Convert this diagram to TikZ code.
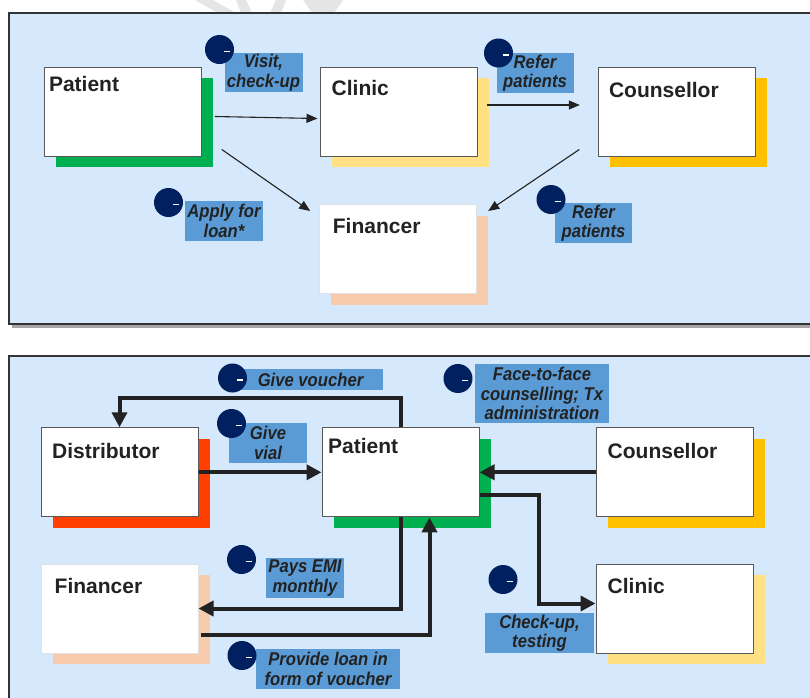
\documentclass[tikz,border=0pt]{standalone}
\usepackage{fontspec}
\setmainfont{Liberation Sans}
\newfontfamily\tagfont{Liberation Sans}[FakeStretch=0.9]
\usepackage{tikz}
\usetikzlibrary{arrows.meta,calc,positioning,shadows}

\definecolor{panelblue}{RGB}{213,232,252}
\definecolor{tagblue}{RGB}{91,155,213}
\definecolor{dotnavy}{RGB}{0,32,96}
\definecolor{shgreen}{RGB}{0,176,80}
\definecolor{shred}{RGB}{255,64,0}
\definecolor{shgold}{RGB}{255,192,0}
\definecolor{shyellow}{RGB}{255,224,130}
\definecolor{shpeach}{RGB}{248,203,173}
\definecolor{inkdark}{RGB}{34,34,34}

\tikzset{
  entity/.style={draw=black!65, line width=1pt, fill=white,
    minimum width=157pt, minimum height=89pt, inner sep=0pt,
    drop shadow={shadow xshift=11.5pt, shadow yshift=-11pt, opacity=1, fill=#1}},
  title/.style={anchor=north west, inner sep=0pt, text=inkdark,
    font=\fontsize{21}{25}\selectfont\bfseries},
  tag/.style={fill=tagblue, inner sep=0pt, align=center, text=inkdark,
    font=\tagfont\fontsize{18.5}{19.5}\selectfont\bfseries\itshape},
  dot/.style={circle, fill=dotnavy, minimum size=29pt, inner sep=0pt,
    path picture={\draw[white, line width=1.7pt]
      ([shift={(4pt,-2pt)}]path picture bounding box.center) -- ++(6pt,0pt);}},
  flow/.style={draw=inkdark, line width=1.1pt, ->},
  bigflow/.style={draw=inkdark, line width=4pt,
    -{Triangle[length=15pt,width=15pt]}}
}

\begin{document}
\begin{tikzpicture}[x=1pt,y=-1pt,>={Triangle[length=11pt,width=9pt]}]
  \clip (0,0) rectangle (810,697);
  \fill[white] (0,0) rectangle (810,697);

  % Watermark traces above the first panel
  \fill[black!10] (195,0) -- (213,0) -- (236,13) -- (218,13) -- cycle;
  \fill[black!10] (236,0) -- (246,0) -- (252,13) -- (241,13) -- cycle;
  \fill[black!10] (270,13) -- (276,0) -- (286,0) -- (281,13) -- cycle;
  \fill[black!10] (303,0) -- (343,0) -- (334,13) -- (312,13) -- cycle;

  % Panels
  \fill[black!35] (12,16) rectangle (815,328);
  \draw[black!80, line width=1.5pt, fill=panelblue] (9,13) rectangle (815,324);
  \draw[black!80, line width=1.5pt, fill=panelblue] (9,356) rectangle (815,705);

  % ---- Upper panel: actors
  \node[entity=shgreen, label={[title, xshift=5pt, yshift=-10pt]north west:Patient}]
    (patA) at (122.8,111.5) {};
  \node[entity=shyellow, label={[title, xshift=12pt, yshift=-14pt]north west:Clinic}]
    (cliA) at (398.5,111.5) {};
  \node[entity=shgold, label={[title, xshift=11pt, yshift=-15.5pt]north west:Counsellor}]
    (couA) at (676.8,111.5) {};
  \node[entity=shpeach, draw=black!12, label={[title, xshift=13.5pt, yshift=-14pt]north west:Financer}]
    (finA) at (398.2,249) {};

  % Upper panel: flows
  \draw[flow] ([shift={(13,5)}]patA.east) -- ([shift={(-2,7)}]cliA.west);
  \draw[flow] ([shift={(9,-6.5)}]cliA.east) -- ([shift={(-18,-6.5)}]couA.west);
  \draw[flow] ([shift={(20,-7)}]patA.south east) -- ([shift={(-9,7)}]finA.north west);
  \draw[flow] ([shift={(-18.5,-7)}]couA.south west) -- ([shift={(11,7)}]finA.north east);

  % Upper panel: step tags
  \node[tag, minimum width=78pt, minimum height=39pt] (tVisit) at (263.5,72.5) {Visit,\\check-up};
  \node[dot] (dVisit) at (219.5,49.5) {};
  \node[tag, minimum width=77pt, minimum height=40pt] (tReferA) at (535,73) {Refer\\patients};
  \node[dot] (dReferA) at (498.5,53) {};
  \node[tag, minimum width=78pt, minimum height=40pt] (tLoan) at (224,221) {Apply for\\loan*};
  \node[dot] (dLoan) at (168.5,202.5) {};
  \node[tag, minimum width=77pt, minimum height=40pt] (tReferB) at (593.5,223) {Refer\\patients};
  \node[dot] (dReferB) at (551,199.5) {};

  % ---- Lower panel: actors
  \node[entity=shred, label={[title, xshift=11.5pt, yshift=-16pt]north west:Distributor}]
    (dis) at (119.5,472.3) {};
  \node[entity=shgreen, label={[title, xshift=6.5pt, yshift=-11pt]north west:Patient}]
    (patB) at (400.5,472.3) {};
  \node[entity=shgold, label={[title, xshift=12pt, yshift=-16pt]north west:Counsellor}]
    (couB) at (674.5,472.3) {};
  \node[entity=shpeach, draw=black!12, label={[title, xshift=14pt, yshift=-14.5pt]north west:Financer}]
    (finB) at (119.5,608.5) {};
  \node[entity=shyellow, label={[title, xshift=12pt, yshift=-14.5pt]north west:Clinic}]
    (cliB) at (674.5,608.5) {};

  % Lower panel: flows
  \draw[bigflow] (patB.north) -- ++(0,-29) -| (dis.north);
  \draw[bigflow] (dis.east) -- (patB.west);
  \draw[bigflow] (couB.west) -- (patB.east);
  \draw[bigflow] ([shift={(0,23)}]patB.east) -- ++(59,0) |- ([shift={(0,-5)}]cliB.west);
  \draw[bigflow] (patB.south) |- (finB.east);
  \draw[bigflow] ([shift={(2,26)}]finB.east) -| ([xshift=29pt]patB.south);

  % Lower panel: step tags
  \node[tag, minimum width=145pt, minimum height=21pt] (tVoucher) at (310.5,379.5) {Give voucher};
  \node[dot] (dVoucher) at (232.5,378) {};
  \node[tag, minimum width=134pt, minimum height=59pt] (tFace) at (542,393.5)
    {Face-to-face\\counselling; Tx\\administration};
  \node[dot] (dFace) at (458,378.5) {};
  \node[tag, minimum width=78pt, minimum height=40pt] (tVial) at (268,443) {Give\\vial};
  \node[dot] (dVial) at (231.5,423.5) {};
  \node[tag, minimum width=78pt, minimum height=40pt] (tEmi) at (305,578) {Pays EMI\\monthly};
  \node[dot] (dEmi) at (241.5,559.5) {};
  \node[tag, minimum width=144pt, minimum height=40pt] (tLoanB) at (328,669) {Provide loan in\\form of voucher};
  \node[dot] (dLoanB) at (242,655.5) {};
  \node[tag, minimum width=109pt, minimum height=40pt] (tCheck) at (539.5,633) {Check-up,\\testing};
  \node[dot] (dCheck) at (503,579.5) {};

\end{tikzpicture}
\end{document}
